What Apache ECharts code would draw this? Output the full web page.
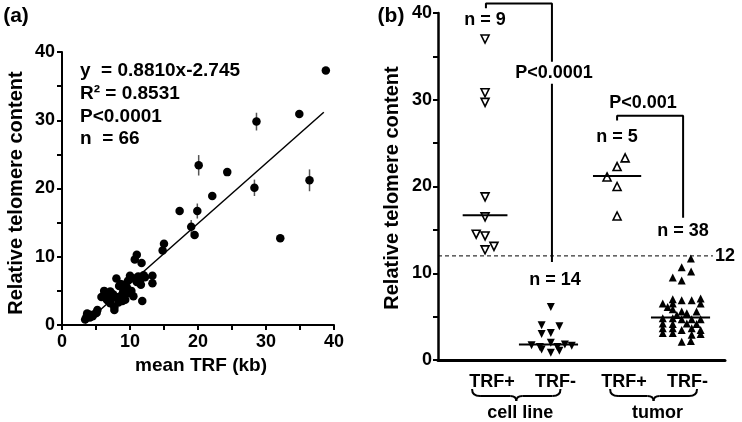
<!DOCTYPE html>
<html><head><meta charset="utf-8">
<script src="https://cdn.jsdelivr.net/npm/echarts@6/dist/echarts.min.js"></script>
<style>html,body{margin:0;padding:0;background:#fff}#c{width:742px;height:422px}</style>
</head><body><div id="c"></div>
<script>
// ---------- Panel (a) data ----------
const trfX = [38.8,34.9,28.6,20.1,24.3,28.3,36.4,22.1,17.3,19.9,19.0,19.5,32.1,15.0,14.8,11.0,10.7,11.7,8.0,10.0,
  10.6,11.2,12.0,13.3,13.3,11.0,11.6,6.2,7.1,8.4,9.3,9.8,8.8,8.0,10.5,5.8,6.6,7.3,9.3,8.3,
  11.8,7.1,7.7,7.7,5.2,4.9,4.1,3.6,3.4,4.1,3.7,5.1,9.0,8.6,9.6,10.2,9.0,7.5,6.8,10.2,
  11.5,12.2,8.9,6.5,9.7,4.5];
const telY = [37.3,30.9,29.8,23.4,22.4,20.1,21.2,18.9,16.7,16.7,14.4,13.2,12.7,11.9,10.9,10.3,9.6,9.1,6.8,7.2,
  6.8,7.1,7.3,7.2,6.1,6.3,5.9,5.0,4.9,5.7,5.2,4.7,4.4,4.1,4.2,4.1,3.7,3.9,3.7,3.3,
  3.5,3.2,2.6,2.2,2.2,1.7,1.5,1.2,0.8,1.1,1.7,1.8,5.9,6.0,5.4,5.0,4.9,4.5,3.5,6.9,
  6.6,7.0,3.5,4.0,6.5,1.3];
const errX = [28.6,20.1,28.3,36.4,19.9,19.0,8.0];
const errY = [29.8,23.4,20.1,21.2,16.7,14.4,6.8];
const errHalf = [1.3,1.5,1.2,1.6,1.1,1.0,0.5];
const fitSlope = 0.8810, fitIntercept = -2.745;
const fitRange = [3.4, 38.5];
const statsText = ['y  = 0.8810x-2.745', 'R\u00b2 = 0.8531', 'P<0.0001', 'n  = 66'];

// ---------- Panel (b) data ----------
const groupLabels = ['TRF+', 'TRF-', 'TRF+', 'TRF-'];
const parentLabels = ['cell line', 'tumor'];
const groupN = [9, 14, 5, 38];
const cellPosY = [37.0,30.8,29.7,18.8,16.5,14.5,14.3,12.7,13.1];
const cellPosJit = [0,0,0,0,0,-3.1,0,0,3.1];
const cellNegY = [6.1,4.0,3.9,3.0,3.1,1.7,1.5,2.0,1.5,1.8,1.65,1.2,0.85,1.07];
const cellNegJit = [0.8,-2.4,3.8,-2.4,0.8,-5.9,-3.0,0.8,3.1,5.7,8.1,-2.4,0.8,3.8];
const tumPosY = [23.3,22.3,21.1,20.0,16.6];
const tumPosJit = [2.8,0,-3.5,0,0];
const tumNegY = [11.7,10.7,10.2,9.5,9.15,6.5,7.0,6.5,6.9,6.9,7.1,6.5,5.85,5.6,5.4,5.6,5.2,4.8,4.8,4.7,
  4.7,4.7,4.2,4.15,4.2,4.15,3.65,3.65,3.45,3.65,3.45,3.1,3.1,3.0,2.1,2.2,6.1,2.9];
const tumNegJit = [3.6,0.4,3.7,-2.7,0.4,-6.2,-2.7,-2.7,0.4,3.9,7.0,7.0,-2.7,0.4,2.2,5.6,-1.3,-6.2,-2.7,0.4,
  3.9,7.0,-6.2,-2.7,2.2,5.6,-6.2,-2.7,0.4,3.9,7.0,-6.2,-2.7,7.0,0.4,3.6,-4.5,3.9];
const medians = [16.7, 1.8, 21.2, 4.9];
const threshold = 12;
const pTexts = ['P<0.0001', 'P<0.001'];

// ---------- layout ----------
const groupCenter = [16.4, 38.5, 62.4, 84.5];
const medianHalf = [7.8, 10.3, 8.4, 10.3];
const braceExt = [[-13, 12], [-7, 16.5]];
const FONT = '"Liberation Sans", Arial, sans-serif';

const chart = echarts.init(document.getElementById('c'));

const axisBase = (extra) => Object.assign({
  type: 'value', min: 0, max: 40, interval: 10,
  axisLine: { show: true, lineStyle: { color: '#000', width: 2 } },
  axisTick: { show: true, length: 5, lineStyle: { color: '#000', width: 2 } },
  minorTick: { show: true, splitNumber: 2, length: 5, lineStyle: { color: '#000', width: 2 } },
  splitLine: { show: false },
  axisLabel: { color: '#000', fontFamily: FONT, fontWeight: 'bold', fontSize: 18 }
}, extra);

function pts(ys, jit, g) { return ys.map((y, i) => [groupCenter[g] + jit[i], y]); }

const series = [
  // panel a
  { type: 'custom', xAxisIndex: 0, yAxisIndex: 0, z: 1,
    data: errX.map((x, i) => [x, errY[i] - errHalf[i], errY[i] + errHalf[i]]),
    renderItem: (params, api) => {
      const p1 = api.coord([api.value(0), api.value(1)]);
      const p2 = api.coord([api.value(0), api.value(2)]);
      return { type: 'line', shape: { x1: p1[0], y1: p1[1], x2: p2[0], y2: p2[1] },
        style: { stroke: '#555', lineWidth: 1.5 } };
    } },
  { type: 'line', xAxisIndex: 0, yAxisIndex: 0, symbol: 'none', z: 2,
    data: fitRange.map(x => [x, fitSlope * x + fitIntercept]),
    lineStyle: { color: '#000', width: 1.5 } },
  { type: 'scatter', xAxisIndex: 0, yAxisIndex: 0, symbol: 'circle', symbolSize: 8.5, z: 3,
    itemStyle: { color: '#000', opacity: 1 }, data: trfX.map((x, i) => [x, telY[i]]) },
  // panel b
  { type: 'line', xAxisIndex: 1, yAxisIndex: 1, symbol: 'none', z: 1,
    data: [[0, threshold], [95.8, threshold]],
    lineStyle: { color: '#000', width: 1, type: [4, 3] } },
  { type: 'scatter', xAxisIndex: 1, yAxisIndex: 1, symbol: 'triangle', symbolRotate: 180, symbolSize: 8,
    itemStyle: { color: '#fff', borderColor: '#000', borderWidth: 1.6, opacity: 1 }, data: pts(cellPosY, cellPosJit, 0) },
  { type: 'scatter', xAxisIndex: 1, yAxisIndex: 1, symbol: 'triangle', symbolRotate: 180, symbolSize: 8,
    itemStyle: { color: '#000', opacity: 1 }, data: pts(cellNegY, cellNegJit, 1) },
  { type: 'scatter', xAxisIndex: 1, yAxisIndex: 1, symbol: 'triangle', symbolSize: 8,
    itemStyle: { color: '#fff', borderColor: '#000', borderWidth: 1.6, opacity: 1 }, data: pts(tumPosY, tumPosJit, 2) },
  { type: 'scatter', xAxisIndex: 1, yAxisIndex: 1, symbol: 'triangle', symbolSize: 8,
    itemStyle: { color: '#000', opacity: 1 }, data: pts(tumNegY, tumNegJit, 3) }
];
medians.forEach((m, g) => {
  series.push({ type: 'line', xAxisIndex: 1, yAxisIndex: 1, symbol: 'none', z: 4,
    data: [[groupCenter[g] - medianHalf[g], m], [groupCenter[g] + medianHalf[g], m]],
    lineStyle: { color: '#000', width: 2 } });
});
// significance brackets
series.push({ type: 'line', xAxisIndex: 1, yAxisIndex: 1, symbol: 'none', clip: false, z: 2,
  data: [[groupCenter[0] + 0.3, 40.55], [groupCenter[0] + 0.3, 41.1], [39.7, 41.1], [39.7, 11.3]],
  lineStyle: { color: '#000', width: 2 } });
series.push({ type: 'line', xAxisIndex: 1, yAxisIndex: 1, symbol: 'none', clip: false, z: 2,
  data: [[groupCenter[2], 27.6], [groupCenter[2], 28.15], [85.4, 28.15], [85.4, 16.4]],
  lineStyle: { color: '#000', width: 2 } });

chart.setOption({
  animation: false,
  grid: [
    { left: 62, top: 52, width: 272, height: 273 },
    { left: 438, top: 13, width: 287, height: 347 }
  ],
  xAxis: [
    axisBase({ gridIndex: 0, axisLabel: { color: '#000', fontFamily: FONT, fontWeight: 'bold', fontSize: 18, margin: 8 } }),
    { type: 'value', gridIndex: 1, min: 0, max: 100,
      axisLine: { show: true, lineStyle: { color: '#000', width: 3 } },
      axisTick: { show: false }, axisLabel: { show: false }, splitLine: { show: false } }
  ],
  yAxis: [
    axisBase({ gridIndex: 0, axisLabel: { color: '#000', fontFamily: FONT, fontWeight: 'bold', fontSize: 18, margin: 7 } }),
    axisBase({ gridIndex: 1, axisLine: { show: true, lineStyle: { color: '#000', width: 2.5 } },
      axisLabel: { color: '#000', fontFamily: FONT, fontWeight: 'bold', fontSize: 18, margin: 6 } })
  ],
  series: series
});

function P(g, x, y) { return chart.convertToPixel({ gridIndex: g }, [x, y]); }
const txt = (x, y, text, size, opt) => Object.assign({
  type: 'text', x: x, y: y, z: 100,
  style: { text: text, fill: '#000', font: 'bold ' + size + 'px ' + FONT, align: 'center', verticalAlign: 'middle' }
}, opt || {});
const stroke = { stroke: '#000', lineWidth: 2, fill: null };

const graphic = [];
graphic.push(txt(16, 16, '(a)', 21));
graphic.push(txt(391, 16, '(b)', 21));
graphic.push(txt(16, 193, 'Relative telomere content', 20, { rotation: Math.PI / 2 }));
graphic.push(txt(392, 188, 'Relative telomere content', 20, { rotation: Math.PI / 2 }));
graphic.push(txt(201, 366, 'mean TRF (kb)', 19));
statsText.forEach((s, i) => {
  graphic.push({ type: 'text', x: 80, y: 71 + i * 22.7, z: 100,
    style: { text: s, fill: '#000', font: 'bold 19px ' + FONT, align: 'left', verticalAlign: 'middle' } });
});
// panel b category labels & braces
const labelShift = 2.4;
groupLabels.forEach((l, g) => {
  const p = P(1, groupCenter[g] + labelShift, 0);
  graphic.push(txt(p[0], 382, l, 18));
});
[[0, 1], [2, 3]].forEach((pair, k) => {
  const a = P(1, groupCenter[pair[0]], 0)[0] + braceExt[k][0];
  const b = P(1, groupCenter[pair[1]], 0)[0] + braceExt[k][1];
  const m = (a + b) / 2;
  const segs = [
    { type: 'bezierCurve', shape: { x1: a, y1: 389, x2: a + 8, y2: 396, cpx1: a, cpy1: 396 } },
    { type: 'line', shape: { x1: a + 8, y1: 396, x2: m - 6, y2: 396 } },
    { type: 'bezierCurve', shape: { x1: m - 6, y1: 396, x2: m, y2: 401, cpx1: m, cpy1: 396 } },
    { type: 'bezierCurve', shape: { x1: m, y1: 401, x2: m + 6, y2: 396, cpx1: m, cpy1: 396 } },
    { type: 'line', shape: { x1: m + 6, y1: 396, x2: b - 8, y2: 396 } },
    { type: 'bezierCurve', shape: { x1: b - 8, y1: 396, x2: b, y2: 389, cpx1: b, cpy1: 396 } }
  ];
  segs.forEach(s => { s.z = 100; s.style = stroke; graphic.push(s); });
  graphic.push(txt(m + 4, 413, parentLabels[k], 18));
});
// n labels
const nPos = [[groupCenter[0], 39.2], [40.8, 9.2], [groupCenter[2], 25.7], [85.4, 14.9]];
groupN.forEach((n, g) => {
  const p = P(1, nPos[g][0], nPos[g][1]);
  graphic.push(txt(p[0], p[1], 'n = ' + n, 18));
});
// p labels
let pp = P(1, 39.7, 33.1);
graphic.push({ type: 'rect', z: 99, shape: { x: pp[0] - 40, y: pp[1] - 11, width: 80, height: 22 }, style: { fill: '#fff' } });
graphic.push(txt(pp[0] + 2, pp[1], pTexts[0], 18));
pp = P(1, 71.4, 29.65);
graphic.push(txt(pp[0], pp[1], pTexts[1], 18));
// threshold label
pp = P(1, 95.8, threshold);
graphic.push({ type: 'text', x: pp[0] + 2, y: pp[1], z: 100,
  style: { text: String(threshold), fill: '#000', font: 'bold 18px ' + FONT, align: 'left', verticalAlign: 'middle' } });

chart.setOption({ graphic: graphic });
</script>
</body></html>
